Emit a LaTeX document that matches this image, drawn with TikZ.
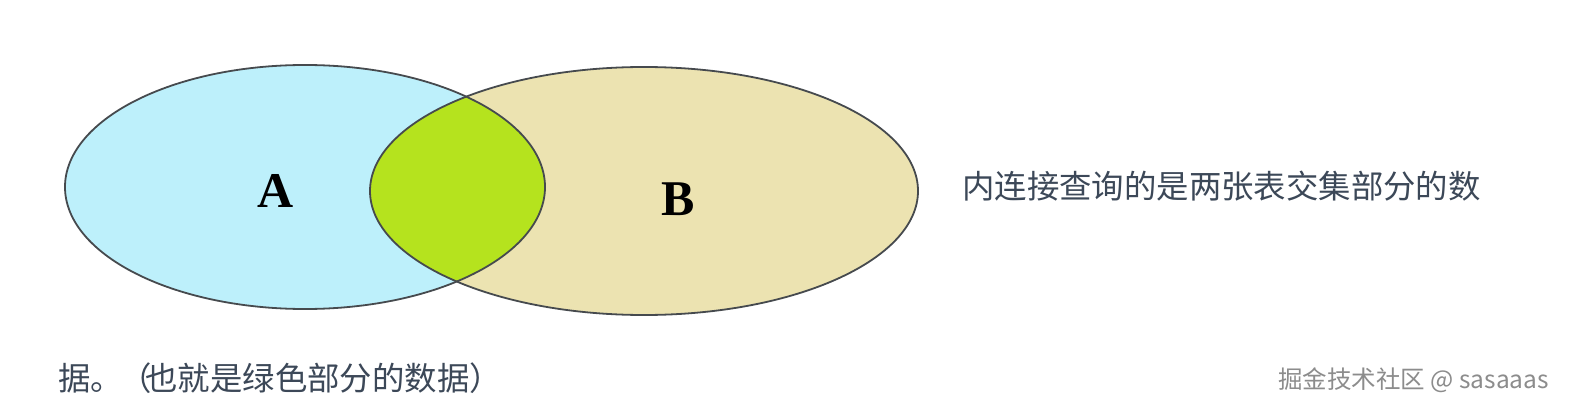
\documentclass[tikz,border=0pt]{standalone}
\usepackage{fontspec}
\setmainfont{Liberation Serif}
\newfontfamily\cjk{Noto Sans CJK SC}
\definecolor{setA}{RGB}{189,240,251}
\definecolor{setB}{RGB}{236,227,177}
\definecolor{setAB}{RGB}{181,227,30}
\definecolor{edgec}{RGB}{70,74,78}
\definecolor{txtc}{RGB}{60,72,88}
\definecolor{wmc}{RGB}{140,140,140}
\begin{document}
\begin{tikzpicture}[x=1pt,y=-1pt,
  setlabel/.style={inner sep=0pt, font=\fontsize{50}{60}\selectfont\bfseries},
  cjktext/.style={inner sep=0pt, anchor=west, text=txtc, font=\cjk\fontsize{32.4}{38}\selectfont},
  wmtext/.style={inner sep=0pt, anchor=west, text=wmc, font=\cjk\fontsize{24.5}{29}\selectfont},
  outline/.style={draw=edgec, line width=1.8pt}]
\useasboundingbox (0,0) rectangle (1570,409);
\fill[white] (0,0) rectangle (1570,409);
\def\ellA{(305,187) ellipse [x radius=240, y radius=122]}
\def\ellB{(644,191) ellipse [x radius=274, y radius=124]}
\fill[setA] \ellA;
\fill[setB] \ellB;
\begin{scope}
  \clip \ellA;
  \fill[setAB] \ellB;
\end{scope}
\draw[outline] \ellA;
\draw[outline] \ellB;
\node[setlabel] (la) at (275.5,190.5) {A};
\node[setlabel] (lb) at (678.5,199.5) {B};
\node[cjktext] (t1) at (962,186) {内连接查询的是两张表交集部分的数};
\node[cjktext] (t2) at (58,378) {据。\kern-4pt（\kern-6pt也就是绿色部分的数据）};
\node[wmtext] (wm) at (1278,380) {掘金技术社区 @ sasaaas};
\end{tikzpicture}
\end{document}
